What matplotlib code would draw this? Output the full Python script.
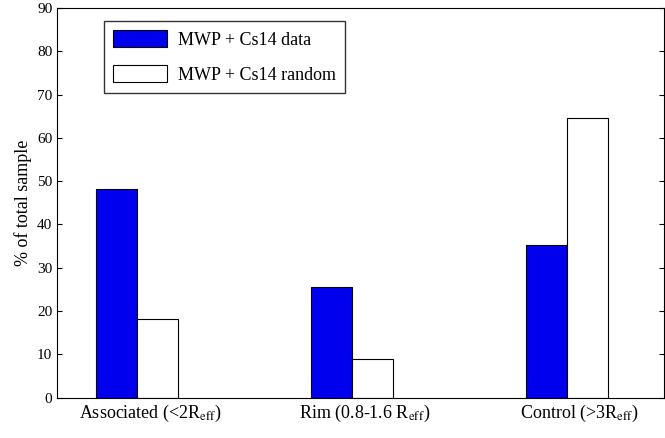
import numpy as np
import matplotlib.pyplot as plt

categories = [r'Associated (<2R$_{\mathrm{eff}}$)', r'Rim (0.8-1.6 R$_{\mathrm{eff}}$)', r'Control (>3R$_{\mathrm{eff}}$)']
data_vals = [48.2, 25.5, 35.2]
random_vals = [18.2, 9.0, 64.5]

plt.rcParams['font.family'] = ['Liberation Serif', 'DejaVu Serif']
plt.rcParams['mathtext.fontset'] = 'stix'

fig, ax = plt.subplots(figsize=(6.65, 4.38), dpi=100)
x = np.arange(len(categories))
w = 0.19
ax.bar(x - w / 2, data_vals, w, color='#0000ee', edgecolor='black', linewidth=0.8, label='MWP + Cs14 data')
ax.bar(x + w / 2, random_vals, w, color='white', edgecolor='black', linewidth=0.8, label='MWP + Cs14 random')

ax.set_xlim(-0.372, 2.45)
ax.set_ylim(0, 90)
ax.set_yticks(range(0, 91, 10))
ax.set_xticks(x + 0.06)
ax.set_xticklabels(categories, fontsize=13)
ax.set_ylabel('% of total sample', fontsize=13)
ax.tick_params(axis='y', direction='in', right=True, labelsize=11)
ax.tick_params(axis='x', length=0, labelsize=13)
ax.legend(loc='upper left', bbox_to_anchor=(0.062, 0.99), fontsize=13, fancybox=False,
          edgecolor='black', handlelength=3.0, handleheight=1.1, borderpad=0.5,
          labelspacing=0.9, handletextpad=0.6)

plt.subplots_adjust(left=0.086, right=0.998, top=0.982, bottom=0.092)
plt.savefig('out.png', dpi=100)
